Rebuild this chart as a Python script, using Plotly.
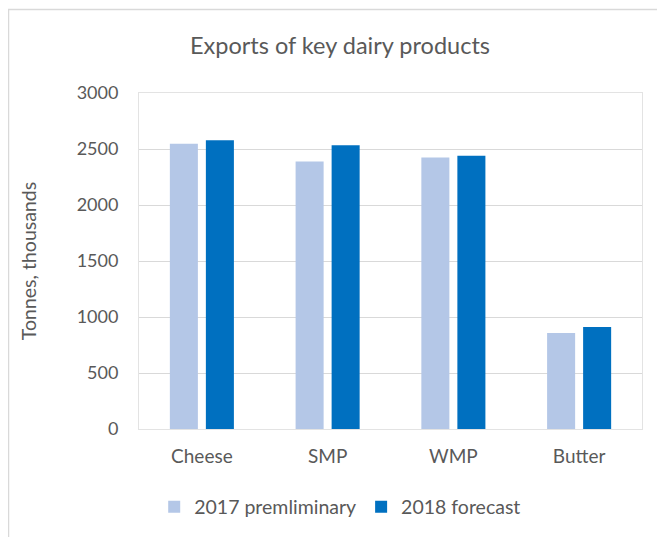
import plotly.graph_objects as go

categories = ["Cheese", "SMP", "WMP", "Butter"]
series_2017 = [2546, 2388, 2424, 857]
series_2018 = [2579, 2534, 2439, 911]
series_names = ["2017 premliminary", "2018 forecast"]
y_ticks = [0, 500, 1000, 1500, 2000, 2500, 3000]

FONT = "Lato"
GRAY = "#595959"
FS = 19

# page body has an 8px margin, so figure coords = screen coords - 8
fig = go.Figure()
fig.add_trace(go.Bar(x=categories, y=series_2017, name=series_names[0],
                     marker=dict(color="#B4C7E7", line=dict(width=0))))
fig.add_trace(go.Bar(x=categories, y=series_2018, name=series_names[1],
                     marker=dict(color="#0070C0", line=dict(width=0))))

fig.update_layout(
    width=665, height=537,
    margin=dict(l=131, r=31, t=85, b=116, autoexpand=False),
    paper_bgcolor="white", plot_bgcolor="white",
    font=dict(family=FONT, color=GRAY, size=FS),
    barmode="group", bargap=0.427, bargroupgap=0.222,
    title=dict(text="Exports of key dairy products", x=(340 - 139) / 503, xanchor="center",
               xref="paper", y=1 - 38 / 537, yanchor="middle",
               font=dict(family=FONT, size=23.5, color=GRAY)),
    legend=dict(orientation="h", x=0.400, xanchor="center", y=-0.232, yanchor="middle",
                font=dict(family=FONT, size=19.5, color=GRAY), itemwidth=30,
                traceorder="normal"),
    xaxis=dict(showline=True, mirror=True, linecolor="#e3e3e3", linewidth=1,
               ticks="", ticklabelstandoff=10, showgrid=False, automargin=False),
    yaxis=dict(range=[0, 3000], tickvals=y_ticks, showgrid=True, gridcolor="#d9d9d9",
               gridwidth=1, zeroline=False, showline=True, mirror=True,
               linecolor="#e3e3e3", linewidth=1, ticks="", ticklabelstandoff=16,
               tickfont=dict(size=18),
               automargin=False,
               title=dict(text="Tonnes, thousands", standoff=34,
                          font=dict(family=FONT, size=19.5, color=GRAY))),
    shapes=[dict(type="rect", xref="paper", yref="paper",
                 x0=(8.5 - 139) / 503, x1=1.2, y0=-0.5, y1=(429 - 9.5) / 336,
                 line=dict(color="#d9d9d9", width=1.5), fillcolor="rgba(0,0,0,0)",
                 layer="below")],
)

fig.write_html("out.html")
